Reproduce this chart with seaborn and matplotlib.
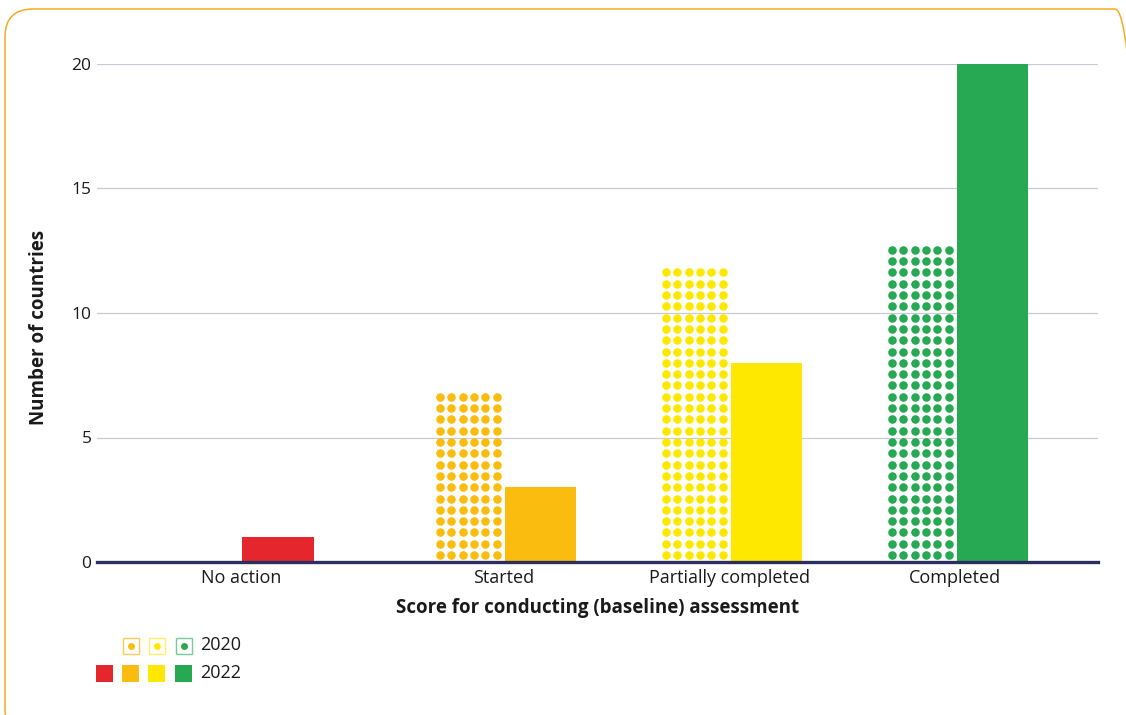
import matplotlib
matplotlib.use("Agg")
import matplotlib.pyplot as plt
import seaborn as sns
import pandas as pd
import numpy as np
from matplotlib.patches import Rectangle, FancyBboxPatch
from matplotlib.transforms import IdentityTransform

# ---------------- data ----------------
categories = ["No action", "Started", "Partially completed", "Completed"]
years = ["2020", "2022"]
values_2020 = [0, 7, 12, 13]
values_2022 = [1, 3, 8, 20]
y_ticks = [0, 5, 10, 15, 20]
colors = ["#E5272D", "#FBBC10", "#FFE800", "#27A852"]
outline_2020 = ["#FCCB5A", "#FFEF6A", "#7CC896"]

# ---------------- layout ----------------
group_x = [0.0, 1.16, 2.16, 3.16]
W, H, DPI = 1126, 715, 100
L, R, T, B = 97, 1098, 64, 562
XLIM = (-0.637, 3.792)

sns.set_theme(style="white")
plt.rcParams['font.family'] = ['Open Sans', 'Noto Sans', 'DejaVu Sans']
text_color = "#1a1a1a"

fig = plt.figure(figsize=(W / DPI, H / DPI), dpi=DPI)
ax = fig.add_axes([L / W, 1 - B / H, (R - L) / W, (B - T) / H])

df = pd.DataFrame({
    "pos": group_x * 2,
    "year": [years[0]] * len(categories) + [years[1]] * len(categories),
    "value": values_2020 + values_2022,
})

sns.barplot(data=df, x="pos", y="value", hue="year", hue_order=years,
            native_scale=True, width=0.655, gap=0.04, dodge=True,
            legend=False, errorbar=None, linewidth=0, saturation=1, ax=ax)

ax.set_xlim(*XLIM)
ax.set_ylim(0, 20)

sx = (R - L) / (XLIM[1] - XLIM[0])   # px per x unit
sy = (B - T) / 20.0                   # px per y unit

step = 11.3
dot_s = 38
for p in list(ax.patches):
    cx = p.get_x() + p.get_width() / 2
    gi = int(np.argmin([abs(g - cx) for g in group_x]))
    if cx > group_x[gi]:
        p.set_facecolor(colors[gi])
        p.set_edgecolor("none")
    else:
        p.set_facecolor("none")
        p.set_edgecolor("none")
        h_px = p.get_height() * sy
        if h_px <= 0:
            continue
        right = p.get_x() + p.get_width()
        xs_col = [right - (5 + k * step) / sx for k in range(6)]
        ys_row = []
        yc = 7.0
        while yc + 3.5 <= h_px:
            ys_row.append(yc / sy)
            yc += step
        XX, YY = np.meshgrid(xs_col, ys_row)
        ax.scatter(XX.ravel(), YY.ravel(), s=dot_s, color=colors[gi],
                   linewidths=0, zorder=3)

# axes styling
for s in ["top", "right", "left"]:
    ax.spines[s].set_visible(False)
ax.spines["bottom"].set_color("#2B2E5E")
ax.spines["bottom"].set_linewidth(2.4)
ax.spines["bottom"].set_zorder(5)
ax.yaxis.grid(True, color="#C9C9DA", linewidth=0.9)
ax.xaxis.grid(False)
ax.set_axisbelow(True)
ax.set_yticks(y_ticks)
ax.set_yticklabels([str(v) for v in y_ticks])
ax.set_xticks(group_x)
ax.set_xticklabels(categories)
ax.tick_params(axis="x", length=0, pad=5, labelsize=13, labelcolor=text_color)
ax.tick_params(axis="y", length=0, pad=4, labelsize=12.5, labelcolor=text_color)
ax.set_xlabel("Score for conducting (baseline) assessment", fontsize=13.5,
              fontweight="bold", color=text_color, labelpad=8)
ax.set_ylabel("Number of countries", fontsize=13.5, fontweight="bold",
              color=text_color, labelpad=16)
ax.yaxis.label.set_y((B - 327) / (B - T))

# ---------------- legend (manual) ----------------
def fig_rect(x, y, w, h, **kw):
    r = Rectangle((x / W, 1 - (y + h) / H), w / W, h / H,
                  transform=fig.transFigure, **kw)
    fig.add_artist(r)

sq = 17
legend_x = [96, 122, 148, 175]
row1_y, row2_y = 637, 665
for i in range(1, 4):
    fig_rect(legend_x[i] + 0.5, row1_y + 0.5, sq - 1, sq - 1, facecolor="white",
             edgecolor=outline_2020[i - 1], linewidth=1.0)
    fig.lines.append(plt.Line2D([(legend_x[i] + sq / 2) / W],
                                [1 - (row1_y + sq / 2) / H],
                                marker="o", markersize=5, color=colors[i],
                                markeredgewidth=0, transform=fig.transFigure))
for i in range(4):
    fig_rect(legend_x[i], row2_y, sq, sq, facecolor=colors[i], edgecolor="none")
fig.text(200 / W, 1 - (row1_y + sq / 2) / H, years[0], fontsize=13,
         va="center", ha="left", color=text_color)
fig.text(200 / W, 1 - (row2_y + sq / 2) / H, years[1], fontsize=13,
         va="center", ha="left", color=text_color)

# ---------------- frame ----------------
frame = FancyBboxPatch((5, H - 737), 1143 - 5, 737 - 9,
                       boxstyle="round,pad=0,rounding_size=28",
                       transform=IdentityTransform(), fill=False,
                       edgecolor="#F5AB22", linewidth=1.1)
fig.add_artist(frame)

fig.savefig("out.png", dpi=DPI)
